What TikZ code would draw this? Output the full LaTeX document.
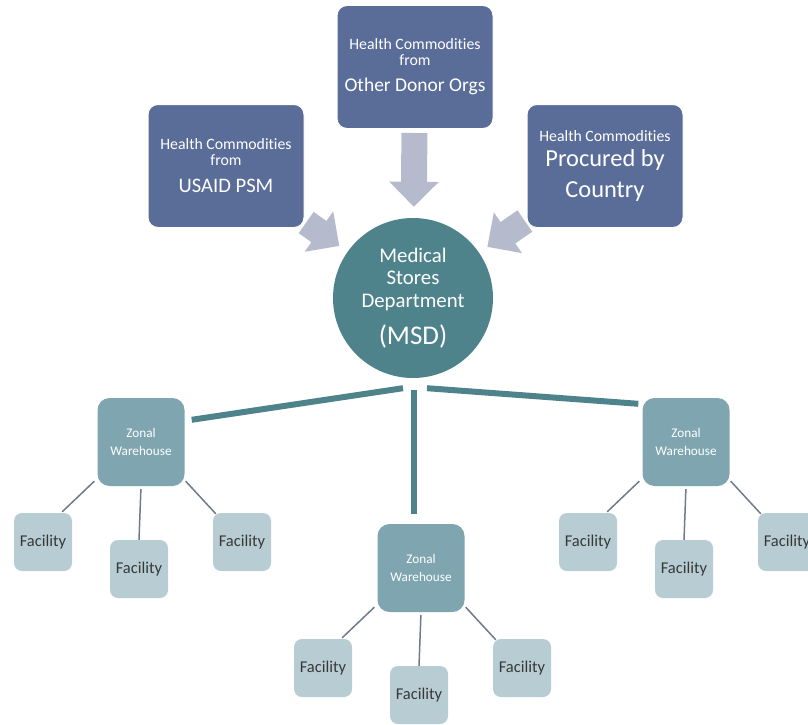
\documentclass[tikz,border=0pt]{standalone}
\usepackage{fontspec}
\setmainfont{Carlito}[Ligatures=NoCommon]
\usetikzlibrary{arrows.meta}
\usetikzlibrary{backgrounds}
\definecolor{donor}{RGB}{90,109,153}
\definecolor{msdteal}{RGB}{79,131,140}
\definecolor{zone}{RGB}{127,166,176}
\definecolor{site}{RGB}{183,205,211}
\definecolor{flowgrey}{RGB}{181,187,204}
\definecolor{twig}{RGB}{112,122,138}
\newcommand{\bigtxt}[1]{\fontsize{#1}{16}\selectfont}
\tikzset{source/.style={rectangle, rounded corners=10pt, fill=donor, draw=white, line width=1pt, minimum width=156pt, minimum height=123pt, text=white, align=center, inner sep=2pt, font=\fontsize{15.8}{16}\selectfont},
store/.style={circle, fill=msdteal, minimum size=160pt, inner sep=0pt, text=white, align=center, font=\fontsize{20.8}{22.5}\selectfont},
zonal/.style={rectangle, rounded corners=12pt, fill=zone, minimum width=87pt, minimum height=88pt, text=white, align=center, font=\fontsize{13.2}{18}\selectfont},
facility/.style={rectangle, rounded corners=8pt, fill=site, minimum size=58pt, text=black!78, font=\fontsize{16.5}{18}\selectfont},
%arrows into the MSD
flow/.style={draw=flowgrey, line width=26pt, -{Triangle[length=25pt,width=48pt]}},
trunk/.style={draw=msdteal, line width=6pt},
branch/.style={draw=twig, line width=1.5pt}}

\begin{document}
\begin{tikzpicture}[x=1pt,y=-1pt]
\useasboundingbox (0,0) rectangle (808,725);
\clip (0,0) rectangle (808,725);

% sources
\node[source] (usaid) at (226,166) {Health Commodities\\ from\\[11pt] \bigtxt{20.6}USAID PSM};
\node[source] (other) at (415,67) {Health Commodities\\ from\\[10pt] \bigtxt{19.5}Other Donor Orgs};
\node[source] (country) at (605,166) {Health Commodities\\[7pt] \bigtxt{24.4}Procured by\\[10pt] \bigtxt{24.4}Country};

% central store
\node[store] (msd) at (413,298) {Medical\\ Stores\\ Department\\[13pt] \fontsize{27}{22.5}\selectfont (MSD)};

\begin{scope}[on background layer]
\draw[flow, shorten <=2pt, shorten >=10pt] (usaid) -- (msd);
\draw[flow, shorten <=4pt, shorten >=11pt] (other) -- (msd);
\draw[flow, shorten <=2pt, shorten >=10pt] (country) -- (msd);
\end{scope}

% zonal warehouses
\node[zonal] (zw1) at (141,442) {Zonal\\ Warehouse};
\node[zonal] (zw2) at (421,568) {Zonal\\ Warehouse};
\node[zonal] (zw3) at (686,442) {Zonal\\ Warehouse};

\draw[trunk] ([shift={(-10,10)}]msd.south) -- ([shift={(7,22)}]zw1.north east);
\draw[trunk] ([shift={(1,12)}]msd.south) -- ([shift={(-7,-10)}]zw2.north);
\draw[trunk] ([shift={(14,10)}]msd.south) -- ([shift={(-4,6)}]zw3.north west);

%facilities
\foreach \z in {zw1,zw2,zw3}{
  \node[facility] (\z-1) at ([shift={(-98,100)}]\z) {Facility};
  \node[facility] (\z-2) at ([shift={(-2,127)}]\z) {Facility};
  \node[facility] (\z-3) at ([shift={(101,100)}]\z) {Facility};
  \draw[branch] ([shift={(-3,-5)}]\z.south west) -- ([shift={(-10,-1)}]\z-1.north east);
  \draw[branch, shorten <=3pt] (\z.south) -- (\z-2.north);
  \draw[branch] ([shift={(1,-5)}]\z.south east) -- ([shift={(3,1)}]\z-3.north west);
}

\end{tikzpicture}
\end{document}
